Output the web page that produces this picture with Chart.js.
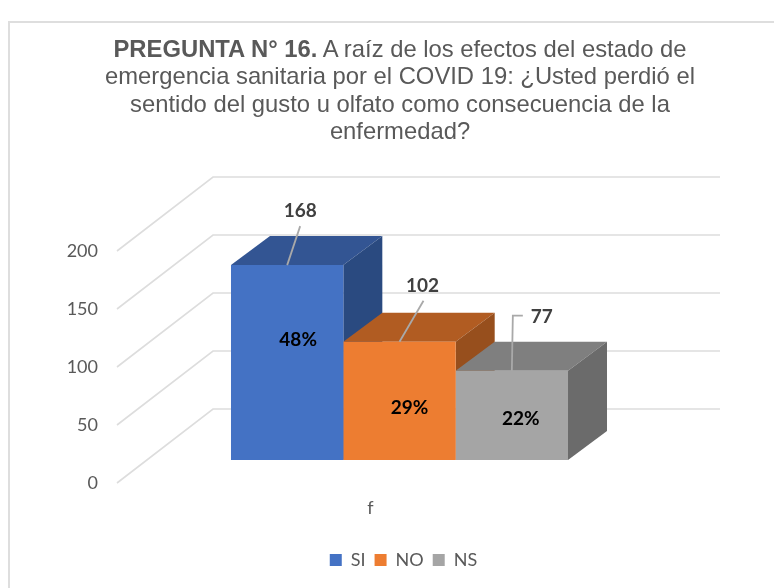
<!DOCTYPE html>
<html lang="es">
<head>
<meta charset="utf-8">
<title>PREGUNTA N° 16</title>
<script src="https://cdn.jsdelivr.net/npm/chart.js@4"></script>
<style>
  html, body { margin: 0; padding: 0; background: #fff; width: 774px; height: 588px; overflow: hidden; }
  #frame { position: absolute; left: 8px; top: 21px; width: 780px; height: 600px; border: 2px solid #dedede; box-sizing: border-box; }
  #chart { position: absolute; left: 0; top: 0; }
  #title { position: absolute; left: 50px; top: 35px; width: 700px; text-align: center; font: 23.8px/27.3px "Liberation Sans", Arial, sans-serif; color: #595959; }
</style>
</head>
<body>
<div id="frame"></div>
<canvas id="chart" width="774" height="588"></canvas>
<div id="title"><b>PREGUNTA N° 16.</b> A raíz de los efectos del estado de<br>emergencia sanitaria por el COVID 19: ¿Usted perdió el<br>sentido del gusto u olfato como consecuencia de la<br>enfermedad?</div>
<script>
const categories = ["f"];
const seriesNames = ["SI", "NO", "NS"];
const seriesValues = [168, 102, 77];
const percentLabels = ["48%", "29%", "22%"];
const yTicksStep = 50;
const yMaxTick = 200;

const frontColors = ["#4472c4", "#ed7d31", "#a5a5a5"];
const topColors = ["#335593", "#b15c22", "#7f7f7f"];
const sideColors = ["#2a4a80", "#974f1d", "#6b6b6b"];

const pxPerUnit = 232 / yMaxTick;
const barPlaneLift = 23;          // bars stand 23px above the axis plane
const wall = { dx: 96, dy: -74, right: 720 };
const depth = { dx: 39, dy: -29 };
const percentOffsets = [[11, -23], [10, 7], [9, 3.5]];
const valueOffsets = [[13, -54], [23, -56], [30, -54]];
const leaders = [
  [[13, -39], [0, 0]],
  [[24, -41], [0, 0]],
  [[11, -55], [1, -55], [0, 0]]
];
const FONT = 'Lato, "Open Sans", sans-serif';

const threeD = {
  id: "threeD",
  beforeDatasetsDraw(chart) {
    const { ctx, chartArea, scales } = chart;
    ctx.save();
    ctx.strokeStyle = "#dddddd";
    ctx.lineWidth = 1.6;
    for (let v = 0; v <= yMaxTick; v += yTicksStep) {
      const y = scales.yAxis.getPixelForValue(v);
      ctx.beginPath();
      ctx.moveTo(chartArea.left, y);
      ctx.lineTo(chartArea.left + wall.dx, y + wall.dy);
      ctx.lineTo(wall.right, y + wall.dy);
      ctx.stroke();
    }
    seriesValues.forEach((_, i) => {
      const b = chart.getDatasetMeta(i).data[0];
      const l = b.x - b.width / 2, r = b.x + b.width / 2, t = b.y, base = b.base;
      ctx.fillStyle = topColors[i];
      ctx.beginPath();
      ctx.moveTo(l, t);
      ctx.lineTo(l + depth.dx, t + depth.dy);
      ctx.lineTo(r + depth.dx, t + depth.dy);
      ctx.lineTo(r, t);
      ctx.closePath();
      ctx.fill();
      ctx.fillStyle = sideColors[i];
      ctx.beginPath();
      ctx.moveTo(r, t);
      ctx.lineTo(r + depth.dx, t + depth.dy);
      ctx.lineTo(r + depth.dx, base + depth.dy);
      ctx.lineTo(r, base);
      ctx.closePath();
      ctx.fill();
    });
    ctx.restore();
  },
  afterDatasetsDraw(chart) {
    const { ctx } = chart;
    ctx.save();
    ctx.textAlign = "center";
    ctx.textBaseline = "middle";
    seriesValues.forEach((v, i) => {
      const b = chart.getDatasetMeta(i).data[0];
      ctx.strokeStyle = "#a9a9a9";
      ctx.lineWidth = 1.8;
      ctx.beginPath();
      leaders[i].forEach((p, k) => {
        const x = b.x + p[0], y = b.y + p[1];
        if (k === 0) ctx.moveTo(x, y); else ctx.lineTo(x, y);
      });
      ctx.stroke();
      ctx.font = "bold 19px " + FONT;
      ctx.fillStyle = "#404040";
      ctx.fillText(String(v), b.x + valueOffsets[i][0], b.y + valueOffsets[i][1]);
      ctx.fillStyle = "#000000";
      ctx.fillText(percentLabels[i], b.x + percentOffsets[i][0], (b.y + b.base) / 2 + percentOffsets[i][1]);
    });
    ctx.restore();
  },
  afterLayout(chart) {
    const shift = 403.5 - 341;
    chart.legend.left += shift;
    chart.legend.right += shift;
  }
};

new Chart(document.getElementById("chart"), {
  type: "bar",
  data: {
    labels: categories,
    datasets: seriesNames.map((name, i) => ({
      label: name,
      data: [seriesValues[i]],
      backgroundColor: frontColors[i],
      borderWidth: 0,
      categoryPercentage: 0.5965,
      barPercentage: 1,
      xAxisID: "x",
      yAxisID: "y"
    }))
  },
  options: {
    responsive: false,
    animation: false,
    events: [],
    layout: { padding: { top: 228, right: 92, bottom: 9, left: 0 } },
    plugins: {
      title: { display: false },
      tooltip: { enabled: false },
      legend: {
        position: "bottom",
        labels: { boxWidth: 12, boxHeight: 12, padding: 9, color: "#595959", font: { family: FONT, size: 18 } }
      }
    },
    scales: {
      x: {
        grid: { display: false, drawTicks: false },
        border: { display: false },
        ticks: { color: "#595959", padding: 14, labelOffset: -29, font: { family: FONT, size: 18 } },
        afterFit(s) { s.height = 59; }
      },
      y: {
        display: false,
        min: -barPlaneLift / pxPerUnit,
        max: yMaxTick
      },
      yAxis: {
        position: "left",
        min: 0,
        max: yMaxTick + barPlaneLift / pxPerUnit,
        grid: { display: false, drawTicks: false },
        border: { display: false },
        ticks: { stepSize: yTicksStep, includeBounds: false, color: "#595959", padding: 19, font: { family: FONT, size: 18 } },
        afterFit(s) { s.width = 117; }
      }
    }
  },
  plugins: [threeD]
});
</script>
</body>
</html>
